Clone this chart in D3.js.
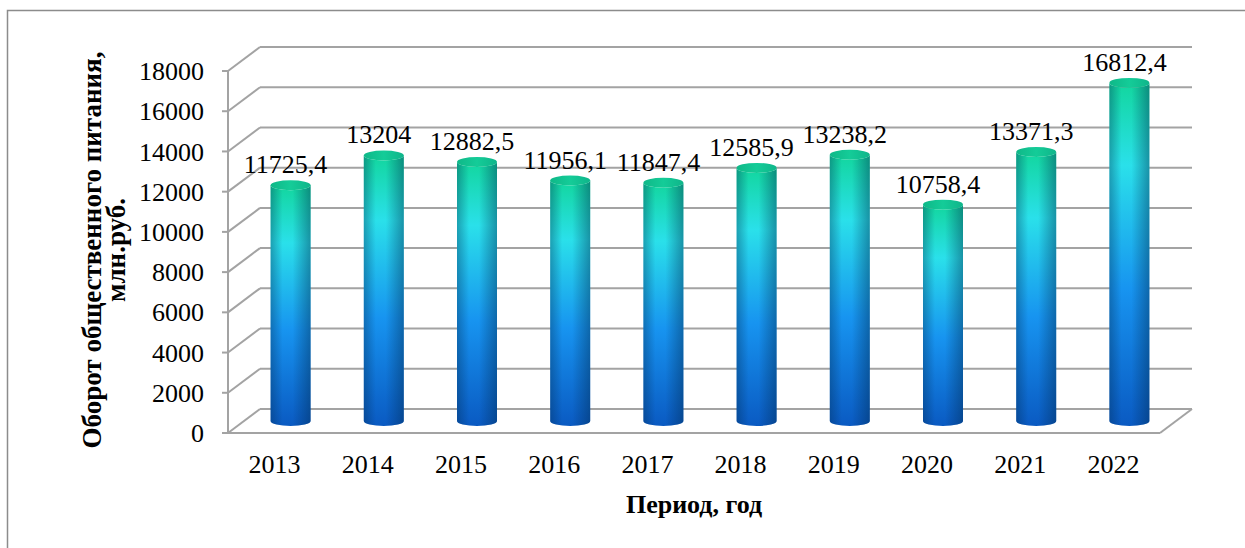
<!DOCTYPE html>
<html>
<head>
<meta charset="utf-8">
<script src="https://cdn.jsdelivr.net/npm/d3@7"></script>
<style>
  body { margin: 0; background: #fff; }
  svg { display: block; }
  text { font-family: "Liberation Serif", "Times New Roman", Times, serif; }
</style>
</head>
<body>
<svg id="chart" width="1245" height="548"></svg>
<script>
// Years and turnover values (mln rub)
const years = ["2013", "2014", "2015", "2016", "2017", "2018", "2019", "2020", "2021", "2022"];
const turnover = [11725.4, 13204, 12882.5, 11956.1, 11847.4, 12585.9, 13238.2, 10758.4, 13371.3, 16812.4];
const valueLabels = ["11725,4", "13204", "12882,5", "11956,1", "11847,4", "12585,9", "13238,2", "10758,4", "13371,3", "16812,4"];
const yTicks = [0, 2000, 4000, 6000, 8000, 10000, 12000, 14000, 16000, 18000];

const svg = d3.select("#chart");
const serif = "Liberation Serif, Times New Roman, serif";

// 3D-ish frame: front plane and back wall offset
const depthX = 32, depthY = -24;
const front = { left: 228, right: 1160, bottom: 433, top: 71 };

const x = d3.scaleBand().domain(years).range([front.left, front.right]).padding(0);
const yFront = d3.scaleLinear().domain([0, 18000]).range([front.bottom, front.top]);
const yMid = d3.scaleLinear().domain([0, 18000]).range([front.bottom + depthY / 2, front.top + depthY / 2]);

const defs = svg.append("defs");
const vg = defs.append("linearGradient").attr("id", "cylV").attr("x1", 0).attr("y1", 0).attr("x2", 0).attr("y2", 1);
[["0%", "#12d69e"], ["24%", "#2ae0ea"], ["60%", "#1794f0"], ["100%", "#0a5ac2"]].forEach(s =>
  vg.append("stop").attr("offset", s[0]).attr("stop-color", s[1]));
const hg = defs.append("linearGradient").attr("id", "cylH").attr("x1", 0).attr("y1", 0).attr("x2", 1).attr("y2", 0);
[["0%", 0.35], ["30%", 0], ["55%", 0], ["100%", 0.42]].forEach(s =>
  hg.append("stop").attr("offset", s[0]).attr("stop-color", "#00284a").attr("stop-opacity", s[1]));
const tg = defs.append("linearGradient").attr("id", "cylTop").attr("x1", 0).attr("y1", 0).attr("x2", 1).attr("y2", 0);
[["0%", "#0fb888"], ["50%", "#14cc98"], ["100%", "#0fb58a"]].forEach(s =>
  tg.append("stop").attr("offset", s[0]).attr("stop-color", s[1]));

// outer border
svg.append("rect")
  .attr("x", 7.5).attr("y", 10.5).attr("width", 1300).attr("height", 700)
  .attr("fill", "none").attr("stroke", "#8c8c8c").attr("stroke-width", 1.5);

const grid = svg.append("g").attr("stroke", "#a3a3a3").attr("stroke-width", 2).attr("fill", "none");

// back wall gridlines + side diagonals
yTicks.forEach(t => {
  const yf = yFront(t);
  grid.append("line")
    .attr("x1", front.left).attr("y1", yf)
    .attr("x2", front.left + depthX).attr("y2", yf + depthY);
  grid.append("line")
    .attr("x1", front.left + depthX).attr("y1", yf + depthY)
    .attr("x2", front.right + depthX).attr("y2", yf + depthY);
  grid.append("line")
    .attr("x1", front.left - 6).attr("y1", yf)
    .attr("x2", front.left).attr("y2", yf);
});
// front axis line and floor
grid.append("line").attr("x1", front.left).attr("y1", front.top).attr("x2", front.left).attr("y2", front.bottom);
grid.append("line").attr("x1", front.left).attr("y1", front.bottom).attr("x2", front.right).attr("y2", front.bottom);
grid.append("line").attr("x1", front.right).attr("y1", front.bottom)
  .attr("x2", front.right + depthX).attr("y2", front.bottom + depthY);

// y tick labels
svg.append("g").selectAll("text").data(yTicks).join("text")
  .attr("x", 204).attr("y", d => yFront(d)).attr("dy", "0.35em")
  .attr("text-anchor", "end").attr("font-family", serif).attr("font-size", 26).attr("fill", "#000")
  .text(d => d);

// cylinders
const rx = 20, ry = 5;
const bars = svg.append("g").selectAll("g").data(years).join("g");
bars.each(function (d, i) {
  const g = d3.select(this);
  const cx = x(d) + x.bandwidth() / 2 + depthX / 2;
  const yb = yMid(0), yt = yMid(turnover[i]);
  const body = `M${cx - rx},${yt} L${cx - rx},${yb} A${rx},${ry} 0 0 0 ${cx + rx},${yb} L${cx + rx},${yt} A${rx},${ry} 0 0 1 ${cx - rx},${yt} Z`;
  g.append("path").attr("d", body).attr("fill", "url(#cylV)");
  g.append("path").attr("d", body).attr("fill", "url(#cylH)");
  g.append("ellipse").attr("cx", cx).attr("cy", yt).attr("rx", rx).attr("ry", ry).attr("fill", "url(#cylTop)");
  g.append("text")
    .attr("x", cx - 5).attr("y", yt - ry - 7)
    .attr("text-anchor", "middle").attr("font-family", serif).attr("font-size", 26).attr("fill", "#000")
    .text(valueLabels[i]);
});

// x labels
svg.append("g").selectAll("text").data(years).join("text")
  .attr("x", d => x(d) + x.bandwidth() / 2).attr("y", 473)
  .attr("text-anchor", "middle").attr("font-family", serif).attr("font-size", 26).attr("fill", "#000")
  .text(d => d);

// axis titles
svg.append("text")
  .attr("x", 694).attr("y", 513).attr("text-anchor", "middle")
  .attr("font-family", serif).attr("font-size", 26).attr("font-weight", "bold")
  .text("Период, год");

const yTitle = svg.append("text")
  .attr("transform", "translate(0,250) rotate(-90)")
  .attr("text-anchor", "middle").attr("font-family", serif).attr("font-size", 27).attr("font-weight", "bold");
yTitle.append("tspan").attr("x", 0).attr("y", 101).text("Оборот общественного питания,");
yTitle.append("tspan").attr("x", 0).attr("y", 125).text("млн.руб.");
</script>
</body>
</html>
